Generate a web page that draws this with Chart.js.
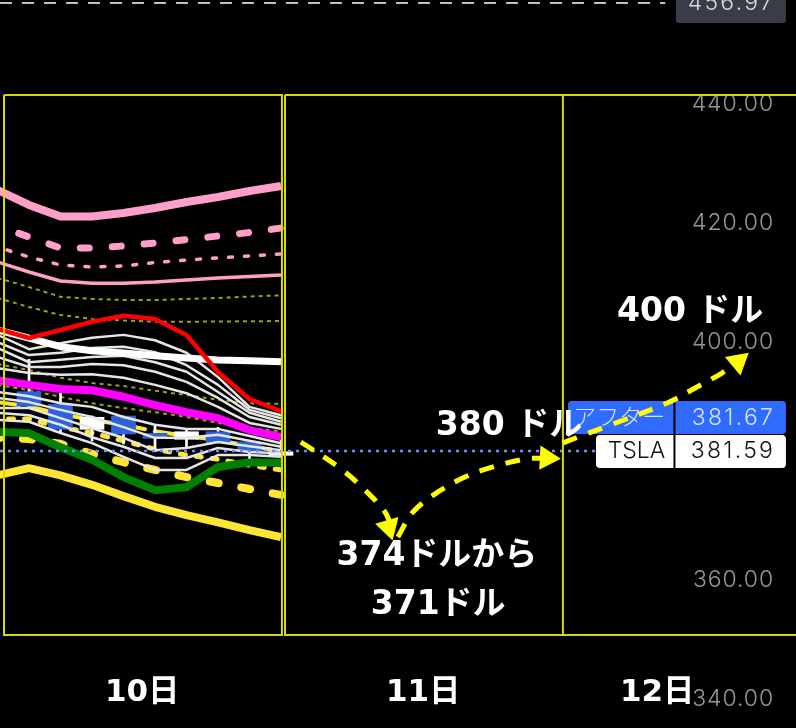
<!DOCTYPE html>
<html lang="ja">
<head>
  <meta charset="UTF-8" />
  <title>TSLA</title>
  <script src="https://cdn.jsdelivr.net/npm/chart.js"></script>
  <style>
    html, body { margin: 0; padding: 0; background: #000; }
    canvas { display: block; }
  </style>
</head>
<body>
  <canvas id="tslaChart" width="796" height="728"></canvas>

  <script>
    const bars = [0, 1, 2, 3, 4, 5, 6, 7, 8, 9];

    const pinkThick = [425.55, 423.03, 421.09, 421.09, 421.68, 422.52, 423.53, 424.37, 425.38, 426.22];
    const pinkDash = [419.50, 417.65, 415.80, 415.80, 416.14, 416.64, 417.23, 417.82, 418.40, 419.16];
    const pinkDot = [415.97, 414.29, 412.94, 412.61, 412.77, 413.36, 413.78, 414.12, 414.45, 414.79];
    const pinkThin = [413.45, 411.76, 410.25, 409.87, 409.87, 410.08, 410.42, 410.76, 411.01, 411.26];

    const olive1 = [410.76, 409.24, 407.61, 407.23, 407.06, 407.06, 407.23, 407.40, 407.65, 407.85];
    const olive2 = [407.40, 405.88, 404.54, 403.87, 403.61, 403.41, 403.41, 403.45, 403.48, 403.53];
    const olive3 = [396.3, 395.3, 394.0, 393.1, 392.6, 391.8, 391.1, 390.3, 389.7, 389.6];
    const olive4 = [392.8, 391.9, 390.8, 389.7, 388.9, 388.2, 387.4, 386.4, 385.5, 385.0];

    const red = [402.19, 400.67, 402.02, 403.41, 404.42, 403.87, 401.18, 394.96, 390.42, 388.40];
    const whiteThick = [402.02, 400.67, 399.21, 398.54, 398.15, 397.70, 397.31, 396.97, 396.86, 396.69];
    const magenta = [393.6, 392.8, 392.1, 391.9, 390.8, 389.4, 388.2, 387.2, 385.2, 384.0];

    const white1 = [401.2, 398.8, 399.8, 400.7, 401.2, 400.3, 398.2, 394.1, 389.1, 387.7];
    const white2 = [400.0, 397.8, 398.2, 399.0, 399.2, 398.3, 396.1, 392.8, 388.6, 387.2];
    const white3 = [399.0, 396.6, 397.0, 397.5, 397.7, 396.6, 395.0, 391.6, 388.1, 386.6];
    const white4 = [397.5, 395.8, 395.8, 396.3, 396.1, 395.0, 393.3, 390.6, 387.4, 386.1];
    const white5 = [395.6, 394.8, 394.5, 394.6, 394.0, 392.8, 391.4, 389.1, 386.4, 385.4];
    const white6 = [391.6, 390.9, 389.7, 389.1, 387.4, 386.1, 385.4, 385.4, 384.2, 383.0];
    const white7 = [390.6, 389.9, 388.6, 387.4, 385.7, 383.9, 383.9, 384.4, 383.4, 382.4];
    const white8 = [388.9, 388.9, 387.2, 385.5, 383.9, 381.8, 382.2, 383.2, 382.5, 381.8];
    const white9 = [388.1, 387.7, 386.1, 384.0, 382.4, 380.5, 380.5, 382.2, 381.5, 381.3];
    const white10 = [386.9, 386.6, 384.7, 383.0, 380.7, 378.5, 378.5, 381.0, 381.0, 380.7];

    const yellowLong = [389.9, 389.2, 387.9, 386.9, 386.1, 385.0, 384.2, 383.5, 382.5, 381.7];
    const yellowDot = [387.06, 387.06, 385.7, 384.7, 383.4, 382.0, 381.0, 380.3, 379.3, 378.5];
    const yellowDash = [383.9, 383.7, 382.9, 381.2, 379.8, 378.5, 377.3, 376.3, 375.3, 374.3];
    const green = [384.9, 384.7, 382.3, 380.2, 377.3, 375.1, 375.6, 379.0, 379.8, 379.7];
    const yellowThick = [377.6, 378.8, 377.6, 376.0, 374.1, 372.3, 370.9, 369.7, 368.4, 367.2];

    // candles: bar, body low/high, wick low/high
    const blueBars = [1, 2, 4, 5, 7, 8];
    const blueBody = [[389.24, 391.65], [385.33, 389.53], [384.54, 387.56], [383.81, 384.65], [383.07, 384.92], [381.56, 383.24]];
    const whiteBars = [3, 6, 9];
    const whiteBody = [[385.33, 387.35], [383.65, 384.92], [380.96, 381.56]];
    const wickBars = [1, 2, 3, 4, 5, 6, 7, 8, 9];
    const wicks = [[389.24, 397.09], [384.65, 391.38], [383.36, 387.56], [382.86, 387.56], [381.56, 386.05], [382.13, 385.33], [383.07, 385.66], [380.45, 383.24], [380.72, 383.53]];

    const afterPrice = 381.67;
    const regularPrice = 381.59;
    const highPrice = 456.97;

    const path1X = [9.63, 10.87, 11.60, 12.30, 12.52];
    const path1Y = [383.19, 378.82, 375.46, 371.43, 368.74];
    const path2X = [12.71, 13.19, 13.98, 14.84, 15.73, 16.75, 17.38];
    const path2Y = [367.23, 371.43, 374.79, 377.31, 379.0, 380.34, 380.5];
    const path3X = [17.95, 18.43, 19.45, 21.26, 22.15, 23.00, 23.51];
    const path3Y = [383.03, 384.03, 386.05, 389.75, 392.27, 394.79, 396.64];
    const headX = [12.42, 17.44, 23.51];
    const headY = [368.9, 380.5, 396.69];
    const headAngle = [164, 93, 50];

    const dayLabels = ['10日', '11日', '12日'];
    const dayX = [4.59, 13.51, 20.94];
    const noteLabels = ['400 ドル', '380 ドル', '374ドルから', '371ドル'];
    const noteX = [21.99, 16.24, 13.95, 13.99];
    const noteY = [405.05, 385.75, 363.9, 355.8];

    const xMin = 0.079, xMax = 25.35;
    const yMin = 335.13, yMax = 457.48;

    const pts = (xs, ys) => xs.map((x, i) => ({ x: x, y: ys[i] }));

    function series(values, color, width, dash, phase) {
      return {
        type: 'line',
        data: pts(bars, values),
        borderColor: color,
        borderWidth: width,
        borderDash: dash || [],
        borderDashOffset: phase || 0,
        borderCapStyle: dash ? 'round' : 'butt',
        borderJoinStyle: 'round',
        pointRadius: 0,
        tension: 0
      };
    }

    function straight(xs, ys, color, width, dash) {
      return {
        type: 'line',
        data: pts(xs, ys),
        borderColor: color,
        borderWidth: width,
        borderDash: dash || [],
        pointRadius: 0,
        tension: 0
      };
    }

    function arrowPath(xs, ys) {
      return {
        type: 'line',
        data: pts(xs, ys),
        borderColor: '#ffff00',
        borderWidth: 5,
        borderDash: [15, 12],
        pointRadius: 0,
        tension: 0.35
      };
    }

    function candle(xs, ranges, color, thickness) {
      return {
        type: 'bar',
        data: xs.map((x, i) => ({ x: x, y: ranges[i] })),
        backgroundColor: color,
        borderWidth: 0,
        barThickness: thickness,
        grouped: false
      };
    }

    const boxColor = '#d8d80f';
    const boxBottom = 350.76, boxTop = 441.51;
    const drawList = [
      series(pinkThick, '#ff9fc9', 8),
      series(pinkDash, '#ff9fc9', 7, [9, 23], 9.5),
      series(pinkDot, '#ff9fc9', 3.5, [4, 12], 6),
      series(pinkThin, '#ff9fc9', 3.5),
      straight(bars, olive1, '#a39c1c', 2, [4, 4]),
      straight(bars, olive2, '#a39c1c', 2, [4, 4]),
      straight(bars, olive3, '#a39c1c', 2, [4, 4]),
      straight(bars, olive4, '#a39c1c', 2, [4, 4]),
      series(yellowLong, '#ffe633', 4, [22, 10]),
      series(yellowDot, '#ffe633', 5, [5, 11], 5),
      series(yellowDash, '#ffe633', 8, [9, 23], 6.5),
      series(green, '#008000', 8),
      series(yellowThick, '#ffe633', 8),
      candle(wickBars, wicks, '#ffffff', 2),
      candle(blueBars, blueBody, '#2f62da', 24),
      candle(whiteBars, whiteBody, '#ffffff', 24),
      series(white1, '#e6e6e6', 2.5),
      series(white2, '#e6e6e6', 2.5),
      series(white3, '#e6e6e6', 2.5),
      series(white4, '#e6e6e6', 2.5),
      series(white5, '#e6e6e6', 2.5),
      series(white6, '#e6e6e6', 2.5),
      series(white7, '#e6e6e6', 2.5),
      series(white8, '#e6e6e6', 2.5),
      series(white9, '#e6e6e6', 2.5),
      series(white10, '#e6e6e6', 2.5),
      series(whiteThick, '#ffffff', 7),
      series(magenta, '#ff00ff', 8),
      series(red, '#ff0000', 4.5),
      straight([xMin, 19.0], [afterPrice, afterPrice], '#6f8cff', 2.5, [3, 5]),
      straight([xMin, 21.2], [highPrice, highPrice], '#ffffff', 1.5, [12, 10]),
      straight([0.206, 9.03, 9.03, 0.206, 0.206], [boxTop, boxTop, boxBottom, boxBottom, boxTop], boxColor, 2),
      straight([9.127, 17.95, 17.95, 9.127, 9.127], [boxTop, boxTop, boxBottom, boxBottom, boxTop], boxColor, 2),
      straight([17.95, xMax], [boxTop, boxTop], boxColor, 2),
      straight([17.95, xMax], [boxBottom, boxBottom], boxColor, 2),
      arrowPath(path1X, path1Y),
      arrowPath(path2X, path2Y),
      arrowPath(path3X, path3Y),
      {
        type: 'line',
        data: pts(headX, headY),
        showLine: false,
        pointStyle: 'triangle',
        pointRadius: 14,
        pointRotation: headAngle,
        pointBackgroundColor: '#ffff00',
        pointBorderWidth: 0
      }
    ];
    drawList.forEach((d, i) => { d.order = drawList.length - i; });

    function badge(ctx, x0, y0, x1, y1, color, r) {
      ctx.fillStyle = color;
      ctx.beginPath();
      ctx.roundRect(x0, y0, x1 - x0, y1 - y0, r);
      ctx.fill();
    }

    const overlays = {
      id: 'overlays',
      // spread the price digits a little, the chart font is narrower than the original
      beforeDraw(chart) {
        chart.ctx.letterSpacing = '0.9px';
      },
      // badges and texts sit above the axis labels, below the arrows
      beforeDatasetsDraw(chart) {
        const { ctx, scales: { x, y } } = chart;
        const X = v => x.getPixelForValue(v);
        const Y = v => y.getPixelForValue(v);
        ctx.save();

        badge(ctx, X(21.54), -6, X(25.03), Y(453.61), '#3a3d47', 3);
        badge(ctx, X(18.11), Y(390.08), X(25.03), Y(384.54), '#2f6bff', 4);
        badge(ctx, X(19.0), Y(384.37), X(25.03), Y(378.82), '#ffffff', 4);
        ctx.fillStyle = '#000';
        ctx.fillRect(X(21.46), Y(390.08), 2, Y(378.82) - Y(390.08));

        ctx.letterSpacing = '2.3px';
        ctx.font = '300 23px Inter, "Noto Sans CJK JP", sans-serif';
        ctx.textBaseline = 'middle';
        ctx.textAlign = 'right';
        ctx.fillStyle = '#d9d9dc';
        ctx.fillText(highPrice.toFixed(2), X(24.69), Y(highPrice));
        ctx.fillStyle = '#d5e2ff';
        ctx.fillText(afterPrice.toFixed(2), X(24.69), Y(387.3));
        ctx.fillStyle = '#111';
        ctx.fillText(regularPrice.toFixed(2), X(24.69), Y(381.6));

        ctx.letterSpacing = '0px';
        ctx.fillText('TSLA', X(21.2), Y(381.6));
        ctx.fillStyle = '#d5e2ff';
        ctx.fillText('アフター', X(21.2), Y(387.3));

        ctx.font = 'bold 33px "DejaVu Sans", "Noto Sans CJK JP", sans-serif';
        ctx.textAlign = 'center';
        ctx.fillStyle = '#ffffff';
        noteLabels.forEach((t, i) => ctx.fillText(t, X(noteX[i]), Y(noteY[i])));
        ctx.font = 'bold 31px "DejaVu Sans", "Noto Sans CJK JP", sans-serif';
        dayLabels.forEach((t, i) => ctx.fillText(t, X(dayX[i]), Y(341.1)));

        ctx.restore();
      }
    };

    new Chart(document.getElementById('tslaChart'), {
      type: 'line',
      data: { datasets: drawList },
      plugins: [overlays],
      options: {
        responsive: false,
        animation: false,
        devicePixelRatio: 1,
        layout: { padding: 0, autoPadding: false },
        plugins: { legend: { display: false }, tooltip: { enabled: false } },
        scales: {
          x: {
            type: 'linear',
            min: xMin,
            max: xMax,
            offset: false,
            display: false
          },
          y: {
            type: 'linear',
            position: 'right',
            min: yMin,
            max: yMax,
            afterFit(scale) {
              scale.width = 0;
              scale.paddingTop = 0;
              scale.paddingBottom = 0;
              scale.paddingLeft = 0;
              scale.paddingRight = 0;
            },
            grid: { display: false },
            border: { display: false },
            afterBuildTicks(scale) {
              scale.ticks = scale.ticks.filter(t => t.value % 20 === 0);
            },
            ticks: {
              mirror: true,
              padding: -22,
              stepSize: 20,
              color: '#94969c',
              font: { family: 'Inter', size: 23, weight: '300' },
              callback: v => v.toFixed(2)
            }
          }
        }
      }
    });
  </script>
</body>
</html>
